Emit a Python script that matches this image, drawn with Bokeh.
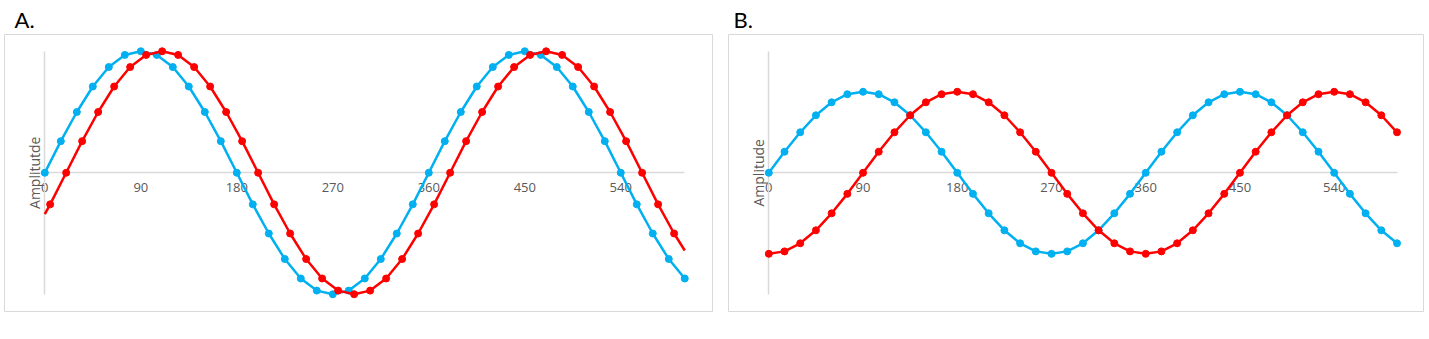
from math import pi
from bokeh.plotting import figure
from bokeh.models import Range1d, FixedTicker, Label, Div
from bokeh.layouts import row
from bokeh.embed import file_html
from bokeh.resources import INLINE

# ---------------- data ----------------
tick_values = [0, 90, 180, 270, 360, 450, 540]

phase_deg = [0, 15, 30, 45, 60, 75, 90, 105, 120, 135, 150, 165, 180, 195, 210, 225,
             240, 255, 270, 285, 300, 315, 330, 345, 360, 375, 390, 405, 420, 435,
             450, 465, 480, 495, 510, 525, 540, 555, 570, 585, 600]

blue_a = [0, 0.26, 0.5, 0.71, 0.87, 0.97, 1, 0.97, 0.87, 0.71, 0.5, 0.26, 0,
          -0.26, -0.5, -0.71, -0.87, -0.97, -1, -0.97, -0.87, -0.71, -0.5, -0.26, 0,
          0.26, 0.5, 0.71, 0.87, 0.97, 1, 0.97, 0.87, 0.71, 0.5, 0.26, 0,
          -0.26, -0.5, -0.71, -0.87]

# red series of panel A (shifted by 20 deg); first/last entries are where the line meets the axis ends
red_a_x = [0, 5, 20, 35, 50, 65, 80, 95, 110, 125, 140, 155, 170, 185, 200, 215, 230,
           245, 260, 275, 290, 305, 320, 335, 350, 365, 380, 395, 410, 425, 440,
           455, 470, 485, 500, 515, 530, 545, 560, 575, 590, 600]
red_a = [-0.34, -0.26, 0, 0.26, 0.5, 0.71, 0.87, 0.97, 1, 0.97, 0.87, 0.71, 0.5, 0.26, 0,
         -0.26, -0.5, -0.71, -0.87, -0.97, -1, -0.97, -0.87, -0.71, -0.5, -0.26, 0,
         0.26, 0.5, 0.71, 0.87, 0.97, 1, 0.97, 0.87, 0.71, 0.5, 0.26, 0,
         -0.26, -0.5, -0.64]

blue_b = list(blue_a)
red_b = [-1, -0.97, -0.87, -0.71, -0.5, -0.26, 0, 0.26, 0.5, 0.71, 0.87, 0.97, 1,
         0.97, 0.87, 0.71, 0.5, 0.26, 0, -0.26, -0.5, -0.71, -0.87, -0.97, -1,
         -0.97, -0.87, -0.71, -0.5, -0.26, 0, 0.26, 0.5, 0.71, 0.87, 0.97, 1,
         0.97, 0.87, 0.71, 0.5]

BLUE = "#00B0F0"
RED = "#FF0000"
GRAY_LINE = "#D9D9D9"
GRAY_TEXT = "#595959"
FONT = "Open Sans"
TITLE_FONT = "Lato"


def make_panel(title, ytitle, width, mbl, mbr, xr, yr, ybound, title_offset):
    p = figure(width=width, height=339, x_range=Range1d(*xr), y_range=Range1d(*yr),
               output_backend="svg", toolbar_location=None,
               min_border_left=mbl, min_border_right=mbr,
               min_border_top=34, min_border_bottom=28)
    p.background_fill_color = "white"
    p.border_fill_color = "white"
    p.outline_line_color = GRAY_LINE
    p.outline_line_width = 1
    p.grid.visible = False

    p.title.text = title
    p.title.text_font = TITLE_FONT
    p.title.text_font_size = "22px"
    p.title.text_font_style = "normal"
    p.title.text_color = "black"
    p.title.align = "left"
    p.title.offset = title_offset
    p.title.standoff = 3

    xa = p.xaxis[0]
    xa.level = "underlay"
    xa.fixed_location = 0
    xa.bounds = (0, 600)
    xa.ticker = FixedTicker(ticks=tick_values)
    xa.major_tick_in = 0
    xa.major_tick_out = 0
    xa.minor_tick_in = 0
    xa.minor_tick_out = 0
    xa.axis_line_color = GRAY_LINE
    xa.axis_line_width = 1.5
    xa.major_label_text_font = FONT
    xa.major_label_text_font_size = "13px"
    xa.major_label_text_color = GRAY_TEXT
    xa.major_label_standoff = 10

    ya = p.yaxis[0]
    ya.level = "underlay"
    ya.fixed_location = 0
    ya.bounds = ybound
    ya.ticker = FixedTicker(ticks=[])
    ya.major_tick_in = 0
    ya.major_tick_out = 0
    ya.minor_tick_in = 0
    ya.minor_tick_out = 0
    ya.axis_line_color = GRAY_LINE
    ya.axis_line_width = 1.5

    p.add_layout(Label(x=0, y=0, text=ytitle, angle=pi / 2, text_align="center",
                       text_baseline="middle", x_offset=-10,
                       text_font=FONT, text_font_size="14px", text_color=GRAY_TEXT))
    return p


pA = make_panel("A.", "Amplitutde", 720, 4, 8, (-37.8, 626.0), (-1.142, 1.138), (-1, 1), 10)
pA.line(phase_deg, blue_a, line_color=BLUE, line_width=2.5)
pA.scatter(phase_deg, blue_a, size=7, fill_color=BLUE, line_color=BLUE)
pA.line(red_a_x, red_a, line_color=RED, line_width=2.5)
pA.scatter(red_a_x[1:-1], red_a[1:-1], size=7, fill_color=RED, line_color=RED)

pB = make_panel("B.", "Amplitude", 708, 8, 5, (-38.5, 625.3), (-1.712, 1.707), (-1.5, 1.5), 5)
pB.line(phase_deg, blue_b, line_color=BLUE, line_width=2.5)
pB.scatter(phase_deg, blue_b, size=7, fill_color=BLUE, line_color=BLUE)
pB.line(phase_deg, red_b, line_color=RED, line_width=2.5)
pB.scatter(phase_deg, red_b, size=7, fill_color=RED, line_color=RED)

edge = Div(width=1, height=339, styles={"background-color": "#D0D0D0"})

layout = row(pA, pB, edge)

open("out.html", "w").write(file_html(layout, INLINE))
